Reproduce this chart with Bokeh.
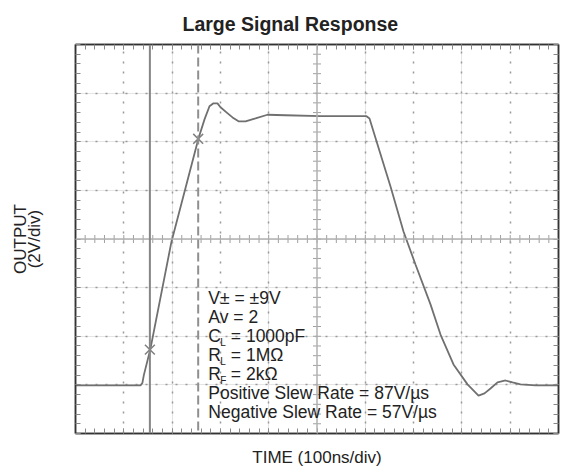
import numpy as np
from bokeh.plotting import figure
from bokeh.models import (FixedTicker, LinearAxis, Span, Label, Range1d, Grid,
                          CustomJSTickFormatter, ColumnDataSource)
from bokeh.embed import file_html
from bokeh.resources import INLINE

# ---------------- data ----------------
title_text = "Large Signal Response"
x_label = "TIME (100ns/div)"
y_label = "OUTPUT\n(2V/div)"

# trace: time in ns (100 ns/div), output in V (2 V/div, centre = 0 V)
time_ns = [0, 134.6, 138.5, 141.5, 155.3, 198.8, 254.7, 267.1, 277.4, 285.7, 294.0,
           300.2, 312.6, 325.1, 337.5, 352.0, 372.7, 397.5, 434.8, 507.2, 602.5,
           608.7, 623.2, 652.2, 679.1, 703.9, 735.0, 755.7, 782.6, 811.6, 834.4,
           846.8, 859.2, 873.7, 890.3, 904.8, 921.3, 952.4, 1000]
output_v = [-6.02, -6.02, -5.92, -5.60, -4.50, -0.10, 4.14, 4.92, 5.46, 5.58, 5.58,
            5.42, 5.21, 5.00, 4.84, 4.84, 4.96, 5.11, 5.09, 5.05, 5.05,
            4.96, 4.02, 2.16, 0.31, -1.05, -2.69, -3.93, -5.16, -5.98, -6.44,
            -6.35, -6.15, -5.90, -5.82, -5.90, -5.98, -6.02, -6.02]

cursor_solid_ns = [154]
cursor_dashed_ns = [254]
marker_ns = [154, 254]
marker_v = [-4.55, 4.12]

note_main = ["V\u00b1 = \u00b19V", "Av = 2", "C", "R", "R",
             "Positive Slew Rate = 87V/\u00b5s", "Negative Slew Rate = 57V/\u00b5s"]
note_sub = ["", "", "L", "L", "F", "", ""]
note_rest = ["", "", "= 1000pF", "= 1M\u03a9", "= 2k\u03a9", "", ""]

x_div_ticks = [0, 100, 200, 300, 400, 500, 600, 700, 800, 900, 1000]
y_div_ticks = [-8, -6, -4, -2, 0, 2, 4, 6, 8]

# ---------------- figure ----------------
FONT = "Liberation Sans"
TXT = "#222222"

p = figure(frame_width=483, frame_height=389, x_range=Range1d(0, 1000), y_range=Range1d(-8, 8),
           output_backend="svg", toolbar_location=None,
           x_axis_location=None, y_axis_location=None,
           min_border_left=75, min_border_right=2, min_border_top=43, min_border_bottom=38)
p.background_fill_color = "white"
p.border_fill_color = "white"
p.outline_line_color = "#333333"
p.outline_line_width = 1.5

p.title.text = title_text
p.title.text_font = FONT
p.title.text_font_size = "19.5px"
p.title.text_font_style = "bold"
p.title.text_color = TXT
p.title.align = "left"
p.title.offset = 107
p.title.standoff = 20

x_minor = list(np.arange(0, 1000.01, 20))
y_minor = list(np.arange(-8, 8.01, 0.4))


def make_axis(ticks, minors, label=None):
    ax = LinearAxis(ticker=FixedTicker(ticks=ticks, minor_ticks=minors),
                    formatter=CustomJSTickFormatter(code="return ''"),
                    major_tick_in=5, major_tick_out=0, minor_tick_in=5, minor_tick_out=0,
                    major_tick_line_color="#888888", minor_tick_line_color="#888888",
                    major_tick_line_width=1, minor_tick_line_width=1,
                    axis_line_color="#333333", axis_line_width=1.5,
                    major_label_standoff=0, major_label_text_font_size="0px")
    if label is not None:
        ax.axis_label = label
        ax.axis_label_text_font = FONT
        ax.axis_label_text_font_size = "17px"
        ax.axis_label_text_font_style = "normal"
        ax.axis_label_text_color = TXT
    return ax


ax_b = make_axis(x_div_ticks, x_minor, x_label)
ax_b.axis_label_standoff = 14
ax_t = make_axis(x_div_ticks, x_minor)
ax_l = make_axis(y_div_ticks, y_minor, y_label)
ax_l.axis_label_standoff = 32
ax_l.axis_label_text_line_height = 0.7
ax_r = make_axis(y_div_ticks, y_minor)
p.add_layout(ax_b, "below")
p.add_layout(ax_t, "above")
p.add_layout(ax_l, "left")
p.add_layout(ax_r, "right")

# dotted graticule
gx = Grid(dimension=0, ticker=FixedTicker(ticks=[t for t in x_div_ticks if t not in (0, 500, 1000)]),
          grid_line_color="#9a9a9a", grid_line_width=1.5, grid_line_dash="2 8")
gy = Grid(dimension=1, ticker=FixedTicker(ticks=[t for t in y_div_ticks if t not in (-8, 0, 8)]),
          grid_line_color="#9a9a9a", grid_line_width=1.5, grid_line_dash="2 8")
p.add_layout(gx)
p.add_layout(gy)

# centre axes with tick marks
p.add_layout(Span(location=500, dimension="height", line_color="#b0b0b0", line_width=1.5))
p.add_layout(Span(location=0, dimension="width", line_color="#b0b0b0", line_width=1.5))
p.scatter(x=x_minor, y=[0] * len(x_minor), marker="dash", angle=np.pi / 2, size=8,
          line_color="#a0a0a0", line_width=1)
p.scatter(x=[500] * len(y_minor), y=y_minor, marker="dash", size=8,
          line_color="#a0a0a0", line_width=1)

# cursors
for c in cursor_solid_ns:
    p.add_layout(Span(location=c, dimension="height", line_color="#858585", line_width=2))
for c in cursor_dashed_ns:
    p.add_layout(Span(location=c, dimension="height", line_color="#8f8f8f", line_width=2,
                      line_dash="9 4"))

# trace
src = ColumnDataSource(dict(t=time_ns, v=output_v))
p.line("t", "v", source=src, line_color="#707070", line_width=1.8)

# cursor crossings
p.scatter(x=marker_ns, y=marker_v, marker="x", size=14, line_color="#808080", line_width=1.5)

# notes
tx, ty, step = 275, -2.43, 19.05
for i, (m, s, r) in enumerate(zip(note_main, note_sub, note_rest)):
    p.add_layout(Label(x=tx, y=ty, y_offset=-step * i, text=m, text_font=FONT,
                       text_font_size="17.5px", text_color=TXT, text_baseline="middle"))
    if s:
        p.add_layout(Label(x=tx, y=ty, x_offset=12, y_offset=-step * i - 6, text=s,
                           text_font=FONT, text_font_size="10px", text_color=TXT,
                           text_baseline="middle"))
    if r:
        p.add_layout(Label(x=tx, y=ty, x_offset=22.5, y_offset=-step * i, text=r,
                           text_font=FONT, text_font_size="17.5px", text_color=TXT,
                           text_baseline="middle"))

open("out.html", "w").write(file_html(p, INLINE))
